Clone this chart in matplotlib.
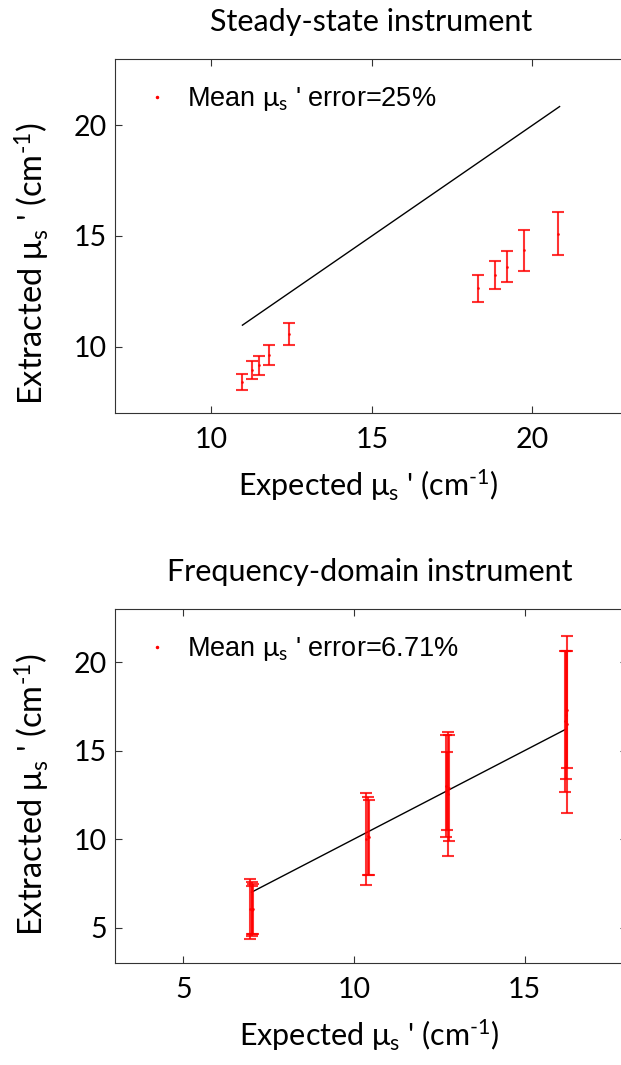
import numpy as np
import matplotlib
matplotlib.use("Agg")
import matplotlib.pyplot as plt
from matplotlib.lines import Line2D

plt.rcParams['font.family'] = ['Lato', 'DejaVu Sans']
plt.rcParams['mathtext.fontset'] = 'custom'
plt.rcParams['mathtext.rm'] = 'Lato'
plt.rcParams['mathtext.it'] = 'Lato'

# Steady-state data
ss_expected = [10.97, 11.26, 11.49, 11.81, 12.43, 18.32, 18.84, 19.20, 19.75, 20.81]
ss_extracted = [8.42, 8.93, 9.15, 9.63, 10.57, 12.63, 13.23, 13.60, 14.35, 15.10]
ss_err = [0.36, 0.41, 0.42, 0.45, 0.49, 0.60, 0.63, 0.70, 0.93, 0.97]
ss_line = [10.97, 20.85]
ss_label = "Mean $\\mu_{s}$ ' error=25%"

# Frequency-domain data (several samples per expected value)
fd_expected = [7.0, 7.0, 7.0, 7.0,
               10.4, 10.4, 10.4,
               12.74, 12.74, 12.74, 12.74,
               16.21, 16.21, 16.21, 16.21]
fd_extracted = [6.05, 6.05, 6.05, 6.0,
                10.0, 10.2, 10.1,
                12.55, 13.0, 12.7, 12.9,
                16.5, 16.65, 17.0, 17.3]
fd_err = [1.69, 1.54, 1.41, 1.35,
          2.6, 2.2, 2.1,
          3.5, 2.9, 2.2, 3.0,
          5.0, 4.0, 3.6, 3.3]
fd_line = [7.0, 16.21]
fd_label = "Mean $\\mu_{s}$ ' error=6.71%"

fig = plt.figure(figsize=(6.21, 10.65), dpi=100)
ax1 = fig.add_axes([115/621, 1 - 413/1065, 513.6/621, 354/1065])
ax2 = fig.add_axes([115/621, 1 - 963/1065, 512/621, 354/1065])

xlab = "Expected $\\mu_{s}$ ' (cm$^{\u2010 1}$)"
ylab = "Extracted $\\mu_{s}$ ' (cm$^{\u2010 1}$)"

def style(ax, xlim, ylim, xticks, yticks, xl_pos, yl_pos):
    ax.set_xlim(xlim)
    ax.set_ylim(ylim)
    ax.set_xticks(xticks)
    ax.set_yticks(yticks)
    ax.tick_params(direction='in', length=5, top=True, right=True,
                   labelsize=20.5, color='#333333', pad=6)
    ax.tick_params(axis='x', pad=10)
    for s in ax.spines.values():
        s.set_color('#333333')
    ax.set_xlabel(xlab, fontsize=22)
    ax.set_ylabel(ylab, fontsize=23.5)
    ax.xaxis.label.set_va('center')
    ax.yaxis.label.set_va('center')
    ax.xaxis.set_label_coords(*xl_pos)
    ax.yaxis.set_label_coords(*yl_pos)

def add_legend(ax, label):
    h = Line2D([], [], color='red', marker='.', ms=3, ls='none')
    ax.legend([h], [label], loc='upper left', frameon=False,
              prop={'family': 'Liberation Sans', 'size': 19.5},
              handlelength=1.2, handletextpad=0.5,
              borderaxespad=0.0, bbox_to_anchor=(0.03, 0.957))

# top panel
ax1.plot(ss_line, ss_line, color='black', lw=1)
ax1.errorbar(ss_expected, ss_extracted, yerr=ss_err, fmt='.', color='red',
             ms=2, elinewidth=1.5, capsize=4, capthick=1.5, alpha=0.8)
style(ax1, (7, 23), (7, 23), [10, 15, 20], [10, 15, 20],
      ((368 - 115) / 513.6, -(485 - 413) / 354), ((32 - 115) / 513.6, (413 - 264) / 354))
add_legend(ax1, ss_label)
fig.text(371/621, 1 - 22/1065, "Steady-state instrument", ha='center', va='center', fontsize=22)

# bottom panel
ax2.plot(fd_line, fd_line, color='black', lw=1)
offs = np.tile([-0.04, 0.0, 0.04, 0.02], 4)[:len(fd_expected)]
ax2.errorbar(np.array(fd_expected) + offs, fd_extracted, yerr=fd_err, fmt='.', color='red',
             ms=2, elinewidth=1.5, capsize=4, capthick=1.5, alpha=0.8)
style(ax2, (3, 18), (3, 23), [5, 10, 15], [5, 10, 15, 20],
      ((369 - 115) / 512, -(1035 - 963) / 354), ((32 - 115) / 512, (963 - 795) / 354))
add_legend(ax2, fd_label)
fig.text(370/621, 1 - 572/1065, "Frequency-domain instrument", ha='center', va='center', fontsize=22)

fig.savefig("out.png", dpi=100)
